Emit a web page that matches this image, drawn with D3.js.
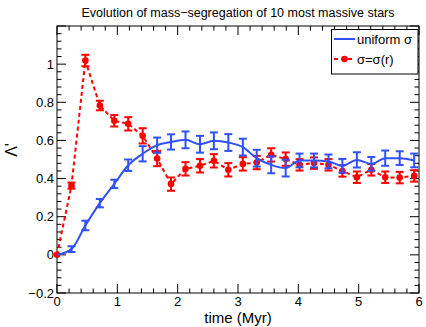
<!DOCTYPE html>
<html>
<head>
<meta charset="utf-8">
<script src="https://cdn.jsdelivr.net/npm/d3@7"></script>
<style>
  body { margin: 0; background: #fff; }
  text { font-family: "Liberation Sans", Arial, sans-serif; }
</style>
</head>
<body>
<div id="chart"></div>
<script>
// time points (Myr)
var times = [0, 0.24, 0.47, 0.71, 0.95, 1.18, 1.42, 1.66, 1.89, 2.13, 2.37, 2.6, 2.84,
             3.08, 3.31, 3.55, 3.79, 4.02, 4.26, 4.5, 4.73, 4.97, 5.21, 5.44, 5.68, 5.92];

// uniform sigma
var uniformVals = [0, 0.03, 0.154, 0.271, 0.372, 0.47, 0.53, 0.575, 0.592, 0.603, 0.58, 0.598, 0.589,
                   0.565, 0.507, 0.472, 0.455, 0.495, 0.495, 0.49, 0.467, 0.498, 0.477, 0.507, 0.507, 0.495];
var uniformErr = [0, 0.015, 0.025, 0.022, 0.022, 0.03, 0.04, 0.04, 0.04, 0.044, 0.044, 0.044, 0.044,
                  0.044, 0.044, 0.044, 0.044, 0.036, 0.036, 0.036, 0.036, 0.04, 0.036, 0.04, 0.036, 0.036];

// sigma = sigma(r)
var radialVals = [0, 0.363, 1.019, 0.783, 0.703, 0.687, 0.624, 0.505, 0.371, 0.451, 0.467, 0.493, 0.446,
                  0.477, 0.484, 0.524, 0.502, 0.472, 0.481, 0.472, 0.44, 0.407, 0.446, 0.407, 0.405, 0.414];
var radialErr = [0, 0.016, 0.03, 0.025, 0.03, 0.035, 0.04, 0.04, 0.035, 0.035, 0.035, 0.035, 0.035,
                 0.035, 0.035, 0.035, 0.035, 0.03, 0.03, 0.03, 0.03, 0.03, 0.03, 0.03, 0.03, 0.03];

var xTicks = [0, 1, 2, 3, 4, 5, 6];
var yTicks = [-0.2, 0, 0.2, 0.4, 0.6, 0.8, 1];

var W = 426, H = 327;
var margin = {top: 26, right: 7, bottom: 34, left: 57};
var width = W - margin.left - margin.right,
    height = H - margin.top - margin.bottom;

var blue = "#3050f8", red = "#ff0000";

var svg = d3.select("#chart").append("svg")
    .attr("width", W)
    .attr("height", H);

var g = svg.append("g").attr("transform", "translate(" + margin.left + "," + margin.top + ")");

var x = d3.scaleLinear().domain([0, 6]).range([0, width]);
var y = d3.scaleLinear().domain([-0.2, 1.2]).range([height, 0]);

// minor ticks
var xMinor = d3.range(0, 6.001, 0.2);
var yMinor = d3.range(-0.2, 1.2001, 0.04);

var ticks = g.append("g").attr("stroke", "#000").attr("stroke-width", 1);
xMinor.forEach(function(v) {
  var major = Math.abs(v - Math.round(v)) < 1e-6;
  var len = major ? 9 : 4.5;
  ticks.append("line").attr("x1", x(v)).attr("x2", x(v)).attr("y1", height).attr("y2", height - len);
  ticks.append("line").attr("x1", x(v)).attr("x2", x(v)).attr("y1", 0).attr("y2", len);
});
yMinor.forEach(function(v) {
  var major = Math.abs(v * 5 - Math.round(v * 5)) < 1e-6;
  var len = major ? 9 : 4.5;
  ticks.append("line").attr("y1", y(v)).attr("y2", y(v)).attr("x1", 0).attr("x2", len);
  ticks.append("line").attr("y1", y(v)).attr("y2", y(v)).attr("x1", width).attr("x2", width - len);
});

// frame
g.append("rect")
    .attr("width", width).attr("height", height)
    .attr("fill", "none").attr("stroke", "#000").attr("stroke-width", 1);

// tick labels
g.append("g").selectAll("text")
    .data(xTicks).enter().append("text")
    .attr("x", function(d) { return x(d); })
    .attr("y", height + 13)
    .attr("text-anchor", "middle")
    .attr("font-size", 13)
    .text(function(d) { return d; });

g.append("g").selectAll("text")
    .data(yTicks).enter().append("text")
    .attr("x", -3)
    .attr("y", function(d) { return y(d); })
    .attr("dy", "0.35em")
    .attr("text-anchor", "end")
    .attr("font-size", 13)
    .text(function(d) { return d < 0 ? "\u2212" + Math.abs(d) : d; });

// axis titles
svg.append("text")
    .attr("x", margin.left + width / 2)
    .attr("y", H - 4)
    .attr("text-anchor", "middle")
    .attr("font-size", 15)
    .text("time (Myr)");

svg.append("text")
    .attr("transform", "translate(17," + (margin.top + y(0.55)) + ") rotate(-90)")
    .attr("text-anchor", "middle")
    .attr("font-size", 16)
    .text("\u039B'");

// title
svg.append("text")
    .attr("x", margin.left + width / 2)
    .attr("y", 17)
    .attr("text-anchor", "middle")
    .attr("font-size", 12.5)
    .text("Evolution of mass\u2212segregation of 10 most massive stars");

function series(vals, errs) {
  return times.map(function(t, i) { return {t: t, v: vals[i], e: errs[i]}; });
}
var uniformData = series(uniformVals, uniformErr);
var radialData = series(radialVals, radialErr);

function drawErrors(data, color) {
  var eg = g.append("g").attr("stroke", color).attr("stroke-width", 2);
  data.filter(function(d) { return d.e > 0; }).forEach(function(d) {
    var cx = x(d.t);
    eg.append("line").attr("x1", cx).attr("x2", cx).attr("y1", y(d.v - d.e)).attr("y2", y(d.v + d.e));
    eg.append("line").attr("x1", cx - 4).attr("x2", cx + 4).attr("y1", y(d.v - d.e)).attr("y2", y(d.v - d.e));
    eg.append("line").attr("x1", cx - 4).attr("x2", cx + 4).attr("y1", y(d.v + d.e)).attr("y2", y(d.v + d.e));
  });
}

var lineSmooth = d3.line()
    .x(function(d) { return x(d.t); })
    .y(function(d) { return y(d.v); })
    .curve(d3.curveMonotoneX);
var lineStraight = d3.line()
    .x(function(d) { return x(d.t); })
    .y(function(d) { return y(d.v); });

// red series
drawErrors(radialData, red);
g.append("path")
    .datum(radialData)
    .attr("d", lineStraight)
    .attr("fill", "none")
    .attr("stroke", red)
    .attr("stroke-width", 2)
    .attr("stroke-dasharray", "4,3");
g.append("g").selectAll("circle")
    .data(radialData).enter().append("circle")
    .attr("cx", function(d) { return x(d.t); })
    .attr("cy", function(d) { return y(d.v); })
    .attr("r", 3.3)
    .attr("fill", red);

// blue series
drawErrors(uniformData, blue);
g.append("path")
    .datum(uniformData)
    .attr("d", lineSmooth)
    .attr("fill", "none")
    .attr("stroke", blue)
    .attr("stroke-width", 2);

// legend
var lg = svg.append("g");
lg.append("rect")
    .attr("x", 331.5).attr("y", 29.5)
    .attr("width", 86.5).attr("height", 44.5)
    .attr("fill", "#fff").attr("stroke", "#000").attr("stroke-width", 1);
lg.append("line")
    .attr("x1", 334).attr("x2", 355).attr("y1", 39).attr("y2", 39)
    .attr("stroke", blue).attr("stroke-width", 2);
lg.append("text")
    .attr("x", 357).attr("y", 39).attr("dy", "0.35em")
    .attr("font-size", 13)
    .text("uniform \u03C3");
lg.append("line")
    .attr("x1", 334).attr("x2", 355).attr("y1", 59).attr("y2", 59)
    .attr("stroke", red).attr("stroke-width", 2).attr("stroke-dasharray", "4,3");
lg.append("circle")
    .attr("cx", 344.5).attr("cy", 59).attr("r", 3.3).attr("fill", red);
lg.append("text")
    .attr("x", 357).attr("y", 59).attr("dy", "0.35em")
    .attr("font-size", 13)
    .text("\u03C3=\u03C3(r)");
</script>
</body>
</html>
